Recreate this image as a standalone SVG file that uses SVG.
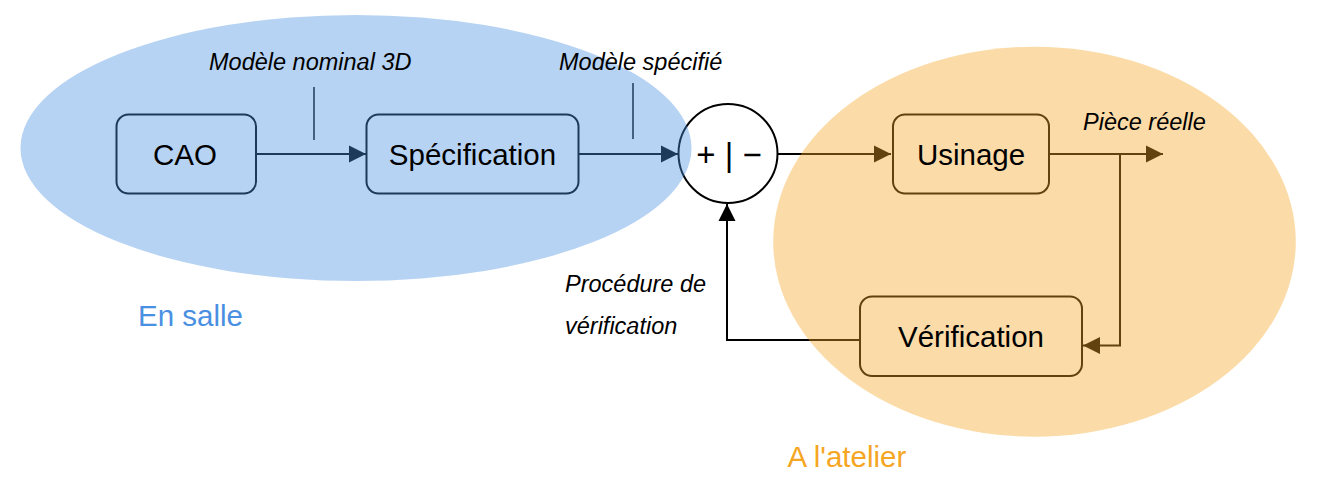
<svg xmlns="http://www.w3.org/2000/svg" width="1324" height="488" viewBox="0 0 1324 488">
<defs>
<style>
.conn{fill:none;stroke:#000;stroke-width:2}
.tick{fill:none;stroke:#000;stroke-width:1.5}
.box-blue{fill:none;stroke:#1E3A5A;stroke-width:2}
.box-orange{fill:none;stroke:#62420E;stroke-width:2}
.node-text{font-family:"Liberation Sans",Arial,sans-serif;font-size:29.5px;fill:#000;text-anchor:middle}
.lbl{font-family:"Liberation Sans",Arial,sans-serif;font-size:23.5px;font-style:italic;fill:#000}
.region-title{font-family:"Liberation Sans",Arial,sans-serif;font-size:29.5px}
</style>
<marker id="arrow" markerUnits="userSpaceOnUse" markerWidth="18" markerHeight="18" viewBox="0 0 18 18" refX="17" refY="9" orient="auto">
<path d="M0,0.5 L17,9 L0,17.5 Z" fill="#000"/>
</marker>
</defs>
<rect width="1324" height="488" fill="#fff"/>
<g id="connectors">
<path class="conn" d="M256,154 H366" marker-end="url(#arrow)"/>
<path class="conn" d="M578.5,154 H678" marker-end="url(#arrow)"/>
<path class="conn" d="M778,154 H891" marker-end="url(#arrow)"/>
<path class="conn" d="M1049,154 H1163" marker-end="url(#arrow)"/>
<path class="conn" d="M1120,154 V345.5 H1083" marker-end="url(#arrow)"/>
<path class="conn" d="M860,340 H727 V204" marker-end="url(#arrow)"/>
<path class="tick" d="M314,87 V140"/>
<path class="tick" d="M633,83 V139"/>
</g>
<g id="node-comparateur">
<circle cx="728" cy="153.5" r="49.5" fill="#fff" stroke="#000" stroke-width="2"/>
<text class="node-text" x="729" y="166" style="font-size:33px">+ | −</text>
</g>
<g id="region-en-salle">
<ellipse cx="356" cy="148" rx="335.5" ry="133" fill="#4A90E2" fill-opacity="0.4"/>
</g>
<g id="region-atelier">
<ellipse cx="1034.5" cy="241.7" rx="261.3" ry="195" fill="#F5A623" fill-opacity="0.4"/>
</g>
<g id="node-cao">
<rect class="box-blue" x="116.5" y="114.5" width="139.5" height="79" rx="12"/>
<text class="node-text" x="185" y="164.5">CAO</text>
</g>
<g id="node-specification">
<rect class="box-blue" x="366.5" y="114.5" width="212" height="79" rx="12"/>
<text class="node-text" x="472.5" y="164.5">Spécification</text>
</g>
<g id="node-usinage">
<rect class="box-orange" x="893" y="114.5" width="156" height="79" rx="12"/>
<text class="node-text" x="971" y="164.5">Usinage</text>
</g>
<g id="node-verification">
<rect class="box-orange" x="860" y="296.5" width="222" height="79.5" rx="12"/>
<text class="node-text" x="971" y="346.5">Vérification</text>
</g>
<g id="labels">
<text class="lbl" x="209" y="70">Modèle nominal 3D</text>
<text class="lbl" x="559" y="70">Modèle spécifié</text>
<text class="lbl" x="1083" y="130">Pièce réelle</text>
<text class="lbl" x="565" y="292">Procédure de</text>
<text class="lbl" x="565" y="333.5">vérification</text>
<text class="region-title" x="138" y="326" fill="#4A90E2">En salle</text>
<text class="region-title" x="787.5" y="467" fill="#F5A623">A l'atelier</text>
</g>
</svg>
